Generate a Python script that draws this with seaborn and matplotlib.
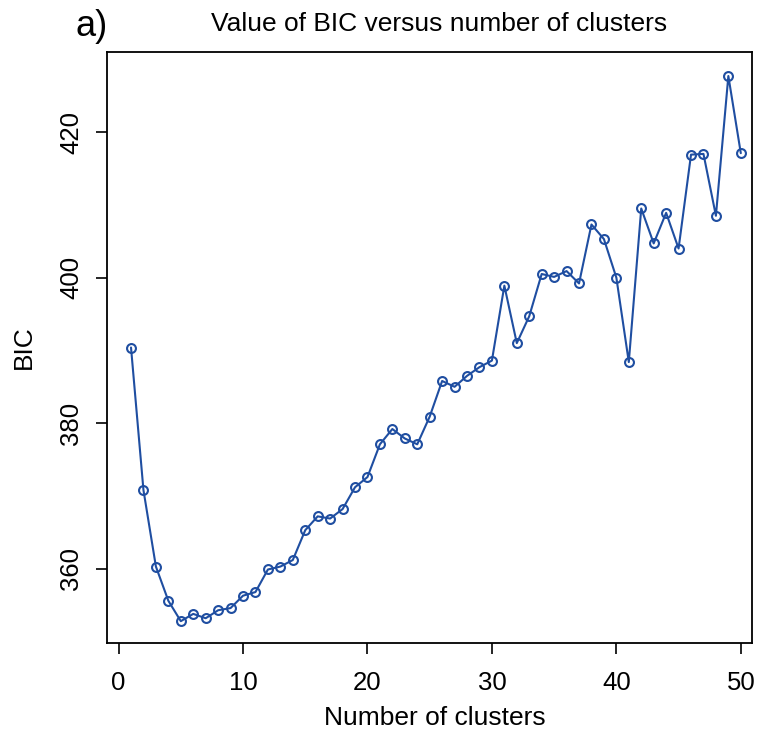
import matplotlib
matplotlib.use("Agg")
import matplotlib.pyplot as plt
import seaborn as sns
import pandas as pd

# BIC for each candidate number of clusters
n_clusters = list(range(1, 51))
bic = [
    390.4, 370.8, 360.3, 355.6, 352.8, 353.8, 353.2, 354.3, 354.6, 356.3,
    356.8, 359.9, 360.3, 361.2, 365.3, 367.2, 366.9, 368.2, 371.2, 372.6,
    377.1, 379.2, 377.9, 377.1, 380.9, 385.8, 385.0, 386.5, 387.7, 388.6,
    398.9, 391.0, 394.7, 400.5, 400.1, 400.9, 399.2, 407.3, 405.3, 400.0,
    388.4, 409.5, 404.7, 408.9, 404.0, 416.9, 417.0, 408.5, 427.7, 417.1,
]
x_ticks = [0, 10, 20, 30, 40, 50]
y_ticks = [360, 380, 400, 420]

df = pd.DataFrame({"k": n_clusters, "BIC": bic})

sns.set_style("ticks")
plt.rcParams["font.family"] = ["Liberation Sans", "DejaVu Sans"]
plt.rcParams["text.color"] = "black"
plt.rcParams["axes.labelcolor"] = "black"

line_color = "#1f4ea1"

fig = plt.figure(figsize=(7.65, 7.34), dpi=100)
ax = fig.add_axes([107 / 765, 1 - 643 / 734, 645 / 765, 591 / 734])

sns.lineplot(
    data=df, x="k", y="BIC", ax=ax, color=line_color, linewidth=1.5,
    marker="o", markersize=6.4, markerfacecolor="none",
    markeredgecolor=line_color, markeredgewidth=1.5,
)

ax.set_xlim(-0.93, 50.9)
ax.set_ylim(349.8, 431.0)
ax.set_xticks(x_ticks)
ax.set_yticks(y_ticks)

for side in ["left", "right", "top", "bottom"]:
    ax.spines[side].set_visible(True)
    ax.spines[side].set_linewidth(1.3)
    ax.spines[side].set_color("black")

ax.tick_params(axis="both", direction="out", length=8, width=1.2,
               labelsize=18.5, colors="black", labelcolor="black")
ax.tick_params(axis="x", pad=12)
ax.tick_params(axis="y", pad=9)
for lab in ax.get_yticklabels():
    lab.set_rotation(90)
    lab.set_va("center")

ax.set_xlabel("Number of clusters", fontsize=19, color="black")
ax.set_ylabel("BIC", fontsize=19, color="black")
ax.xaxis.label.set_va("center")
ax.yaxis.label.set_va("center")
ax.xaxis.set_label_coords((435 - 107) / 645, (643 - 718) / 591)
ax.yaxis.set_label_coords((24 - 107) / 645, 0.5)

fig.text(439 / 765, 1 - 24 / 734, "Value of BIC versus number of clusters",
         ha="center", va="center", fontsize=19, color="black")
fig.text(92 / 765, 1 - 27 / 734, "a)", ha="center", va="center",
         fontsize=26, color="black")

fig.savefig("out.png", dpi=100, facecolor="white")
